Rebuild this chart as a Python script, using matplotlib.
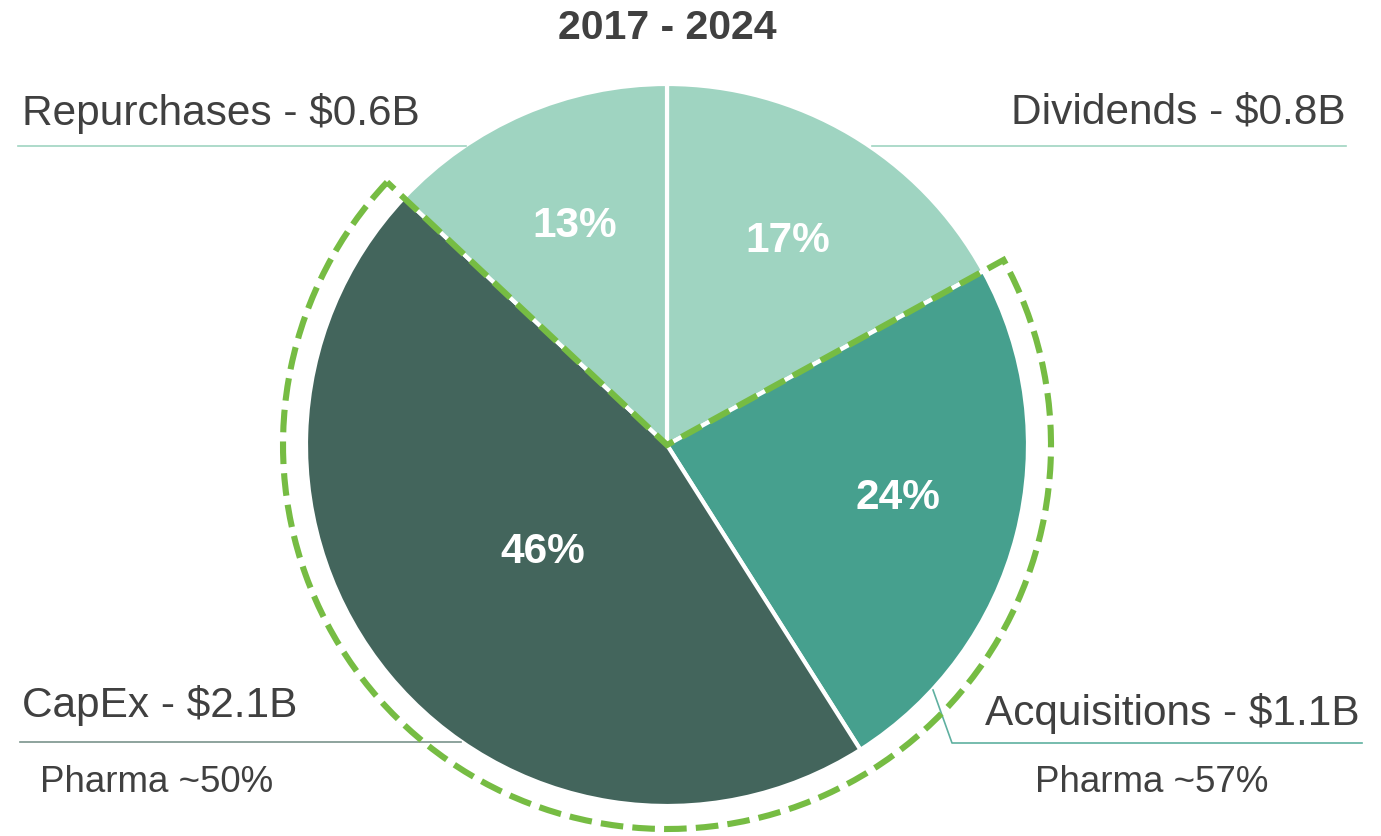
import numpy as np
import matplotlib
matplotlib.use("Agg")
import matplotlib.pyplot as plt
from matplotlib.patches import Wedge

# ---- data ----
title = "2017 - 2024"
categories = ["Dividends", "Acquisitions", "CapEx", "Repurchases"]
shares = [17, 24, 46, 13]          # % share, clockwise from top
amounts = [0.8, 1.1, 2.1, 0.6]     # $B
pharma_labels = {"CapEx": "Pharma ~50%", "Acquisitions": "Pharma ~57%"}
highlighted = ["Acquisitions", "CapEx"]

pct_labels = [f"{s}%" for s in shares]
name_labels = [f"{c} - ${a}B" for c, a in zip(categories, amounts)]

# ---- style ----
colors = ["#9fd4c1", "#46a08e", "#43655c", "#9fd4c1"]
line_colors = ["#9fd4c1", "#5fb0a0", "#7a948c", "#9fd4c1"]
green = "#76bc43"
txt = "#404040"
plt.rcParams['font.family'] = ['Liberation Sans', 'DejaVu Sans']

W, H = 1381, 836
fig = plt.figure(figsize=(W / 100, H / 100), dpi=100)
ax = fig.add_axes([0, 0, 1, 1])

cx, cy = 667, H - 445
R = 361
wedges, _ = ax.pie(shares, colors=colors, startangle=90, counterclock=False,
                   center=(cx, cy), radius=R,
                   wedgeprops=dict(edgecolor="white", linewidth=3))
ax.set_xlim(0, W)
ax.set_ylim(0, H)
ax.set_aspect("equal")
ax.axis("off")

# percent labels (radial fraction, angle shift in degrees)
placement = [(0.655, 0.0), (0.655, 1.5), (0.455, 1.0), (0.66, -0.5)]
for w, lab, (f, da) in zip(wedges, pct_labels, placement):
    mid = np.deg2rad((w.theta1 + w.theta2) / 2 + da)
    ax.text(cx + f * R * np.cos(mid), cy + f * R * np.sin(mid), lab,
            color="white", fontsize=30.5, fontweight="bold", ha="center", va="center")

# dashed highlight around Acquisitions + CapEx
hw = [wedges[categories.index(c)] for c in highlighted]
t1 = min(w.theta1 for w in hw)
t2 = max(w.theta2 for w in hw)
ax.add_patch(Wedge((cx, cy), 384, t1, t2, fill=False, edgecolor=green,
                   linewidth=4.4, linestyle=(0, (3.7, 1.5)), capstyle="butt", zorder=5))

def y(p):
    return H - p

# leader lines and labels
# Repurchases
ax.plot([18, 466], [y(146), y(146)], color=line_colors[3], lw=1.2, zorder=1)
ax.text(22, y(113), name_labels[3], fontsize=30.5, color=txt, ha="left", va="center")
# Dividends
ax.plot([872, 1346], [y(146), y(146)], color=line_colors[0], lw=1.2, zorder=1)
ax.text(1346, y(113), name_labels[0], fontsize=30.5, color=txt, ha="right", va="center")
# CapEx
ax.plot([20, 461], [y(742), y(742)], color=line_colors[2], lw=1.2, zorder=1)
ax.text(22, y(706), name_labels[2], fontsize=30.5, color=txt, ha="left", va="center")
ax.text(40, y(782), pharma_labels["CapEx"], fontsize=26.5, color=txt, ha="left", va="center")
# Acquisitions
ax.plot([933, 952, 1362], [y(690), y(743), y(743)], color=line_colors[1], lw=1.2, zorder=1)
ax.text(1360, y(714), name_labels[1], fontsize=30.5, color=txt, ha="right", va="center")
ax.text(1035, y(782), pharma_labels["Acquisitions"], fontsize=26.5, color=txt, ha="left", va="center")

# title
ax.text(cx, y(28), title, fontsize=29.5, fontweight="bold", color=txt, ha="center", va="center")

fig.savefig("out.png", dpi=100)
